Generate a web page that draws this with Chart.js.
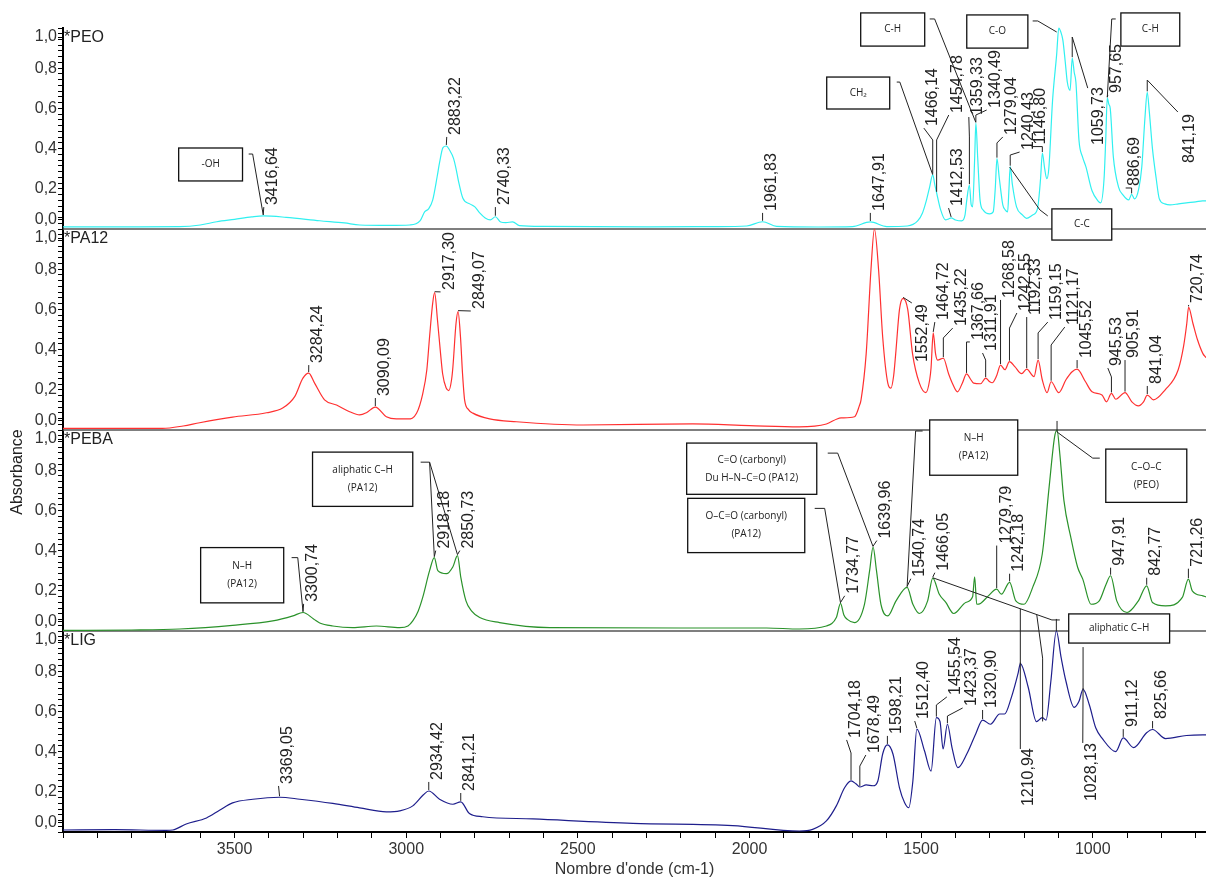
<!DOCTYPE html>
<html>
<head>
<meta charset="utf-8">
<script src="https://cdn.jsdelivr.net/npm/chart.js@4.4.1/dist/chart.umd.min.js"></script>
<style>
  html, body { margin: 0; padding: 0; background: #fff; }
  #wrap { width: 1206px; height: 879px; position: relative; }
</style>
</head>
<body>
<div id="wrap"><canvas id="ftirChart"></canvas></div>
<script>
// ---- spectra: wavenumber (cm-1) and absorbance ----
var peoWn = [4000, 3800, 3660, 3600, 3552, 3500, 3450, 3416.64, 3350, 3252, 3180, 3136, 3050, 2990, 2960, 2946, 2935, 2923, 2910, 2903, 2893, 2883.22, 2874, 2862, 2855, 2848, 2835, 2815, 2800, 2786, 2770, 2755, 2740.33, 2725, 2710, 2690, 2670, 2600, 2300, 2100, 2008, 1961.83, 1921, 1800, 1700, 1647.91, 1600, 1540, 1510, 1496, 1485, 1475, 1466.14, 1460, 1454.78, 1443, 1429, 1420, 1412.53, 1400, 1382, 1372, 1367, 1359.33, 1354, 1350, 1344, 1340.49, 1335, 1328, 1319, 1300, 1290, 1284, 1279.04, 1272, 1262, 1255, 1248, 1244, 1240.43, 1234, 1222, 1205, 1193, 1175, 1161, 1152, 1146.8, 1140, 1134, 1128, 1117, 1105, 1099, 1093, 1087, 1080, 1074, 1066, 1059.73, 1054, 1049, 1040, 1030, 1020, 1002, 985, 977, 967, 962, 957.65, 953, 949, 940, 925, 912, 895, 886.69, 878, 866, 857, 848, 841.19, 835, 826, 815, 806, 790, 775, 750, 727, 700, 680, 670];
var peoAbs = [0.011, 0.011, 0.012, 0.02, 0.036, 0.048, 0.06, 0.065, 0.058, 0.041, 0.03, 0.02, 0.018, 0.02, 0.04, 0.086, 0.1, 0.144, 0.26, 0.33, 0.405, 0.413, 0.393, 0.35, 0.3, 0.24, 0.153, 0.125, 0.11, 0.08, 0.055, 0.045, 0.061, 0.035, 0.032, 0.035, 0.017, 0.013, 0.011, 0.012, 0.015, 0.036, 0.013, 0.01, 0.012, 0.035, 0.012, 0.015, 0.04, 0.08, 0.14, 0.21, 0.27, 0.22, 0.18, 0.095, 0.045, 0.05, 0.055, 0.045, 0.04, 0.07, 0.144, 0.218, 0.12, 0.11, 0.35, 0.527, 0.35, 0.14, 0.094, 0.075, 0.085, 0.2, 0.35, 0.25, 0.12, 0.095, 0.085, 0.2, 0.31, 0.22, 0.11, 0.07, 0.053, 0.07, 0.1, 0.25, 0.378, 0.3, 0.25, 0.3, 0.64, 0.87, 1.0, 0.98, 0.94, 0.83, 0.73, 0.69, 0.85, 0.78, 0.73, 0.44, 0.36, 0.31, 0.19, 0.14, 0.13, 0.25, 0.45, 0.652, 0.62, 0.6, 0.36, 0.21, 0.17, 0.145, 0.172, 0.15, 0.2, 0.31, 0.55, 0.68, 0.58, 0.4, 0.25, 0.15, 0.125, 0.12, 0.125, 0.13, 0.135, 0.14, 0.14];

var pa12Wn = [4000, 3710, 3650, 3602, 3506, 3407, 3360, 3325, 3301, 3284.24, 3267, 3238, 3203, 3165, 3136, 3116, 3090.09, 3058, 3029, 2995, 2970, 2952, 2940, 2932, 2923, 2917.3, 2909, 2900, 2894, 2884, 2876, 2868, 2864, 2855, 2849.07, 2842, 2836, 2830, 2818, 2806, 2757, 2679, 2485, 2165, 2000, 1855, 1776, 1745, 1733, 1694, 1680, 1675, 1660, 1646, 1636, 1624, 1612, 1597, 1588, 1580, 1574, 1563, 1552.49, 1539, 1525, 1505, 1486, 1475, 1471, 1464.72, 1458, 1452, 1435.22, 1420, 1409, 1394, 1380, 1367.66, 1355, 1347, 1327, 1311.91, 1300, 1293, 1280, 1268.58, 1256, 1242.55, 1227, 1207, 1192.33, 1171, 1159.15, 1147, 1133, 1121.17, 1099, 1078, 1060, 1045.52, 1021, 1002, 973, 960, 945.53, 933, 905.91, 886, 867, 852, 841.04, 823, 789, 751, 735, 726, 720.74, 708, 695, 679, 670];
var pa12Abs = [0.008, 0.008, 0.02, 0.036, 0.064, 0.086, 0.109, 0.166, 0.258, 0.283, 0.233, 0.15, 0.124, 0.091, 0.075, 0.086, 0.114, 0.066, 0.055, 0.055, 0.083, 0.18, 0.3, 0.464, 0.63, 0.683, 0.547, 0.38, 0.28, 0.21, 0.196, 0.25, 0.315, 0.53, 0.589, 0.464, 0.28, 0.15, 0.1, 0.084, 0.055, 0.041, 0.025, 0.03, 0.022, 0.016, 0.03, 0.055, 0.06, 0.066, 0.12, 0.15, 0.38, 0.8, 1.0, 0.8, 0.464, 0.233, 0.208, 0.27, 0.38, 0.6, 0.655, 0.6, 0.38, 0.233, 0.186, 0.25, 0.31, 0.483, 0.38, 0.348, 0.357, 0.28, 0.233, 0.19, 0.233, 0.279, 0.25, 0.233, 0.23, 0.258, 0.24, 0.235, 0.27, 0.323, 0.3, 0.34, 0.315, 0.28, 0.303, 0.266, 0.348, 0.25, 0.186, 0.24, 0.186, 0.25, 0.29, 0.303, 0.24, 0.19, 0.174, 0.14, 0.182, 0.153, 0.186, 0.14, 0.12, 0.14, 0.174, 0.15, 0.2, 0.3, 0.42, 0.53, 0.61, 0.53, 0.45, 0.38, 0.36];

var pebaWn = [4000, 3800, 3660, 3506, 3389, 3330, 3300.74, 3270, 3252, 3214, 3156, 3087, 3019, 2995, 2981, 2965, 2952, 2932, 2918.18, 2908, 2883, 2864, 2850.73, 2841, 2826, 2810, 2786, 2728, 2582, 2200, 1950, 1855, 1776, 1747, 1734.77, 1725, 1715, 1694, 1665, 1650, 1639.96, 1630, 1617, 1597, 1573, 1540.74, 1524, 1505, 1481, 1466.05, 1447, 1428, 1405, 1370, 1350, 1344, 1338, 1327, 1304, 1279.79, 1266, 1242.18, 1224, 1200, 1175, 1147, 1127, 1111, 1104, 1096, 1084, 1064, 1044, 1029, 1005, 981, 961, 947.91, 930, 900, 867, 842.77, 826, 788, 739, 721.26, 710, 679, 670];
var pebaAbs = [0.003, 0.005, 0.01, 0.028, 0.05, 0.075, 0.092, 0.06, 0.04, 0.025, 0.017, 0.025, 0.017, 0.025, 0.05, 0.1, 0.167, 0.3, 0.365, 0.3, 0.285, 0.32, 0.375, 0.267, 0.15, 0.1, 0.067, 0.042, 0.017, 0.015, 0.015, 0.01, 0.025, 0.067, 0.137, 0.08, 0.058, 0.042, 0.133, 0.3, 0.417, 0.3, 0.133, 0.075, 0.15, 0.217, 0.133, 0.087, 0.15, 0.263, 0.183, 0.142, 0.087, 0.142, 0.17, 0.27, 0.133, 0.137, 0.175, 0.208, 0.183, 0.242, 0.15, 0.133, 0.217, 0.383, 0.717, 0.967, 1.0, 0.883, 0.65, 0.467, 0.317, 0.258, 0.133, 0.15, 0.233, 0.275, 0.15, 0.092, 0.15, 0.225, 0.142, 0.125, 0.167, 0.258, 0.2, 0.175, 0.17];

var ligWn = [4000, 3850, 3700, 3680, 3641, 3582, 3544, 3506, 3447, 3369.05, 3310, 3214, 3136, 3058, 3019, 2981, 2950, 2934.42, 2903, 2864, 2841.21, 2816, 2777, 2631, 2340, 2049, 1855, 1816, 1776, 1747, 1723, 1704.18, 1690, 1678.49, 1660, 1640, 1626, 1612, 1598.21, 1582, 1563, 1548, 1536, 1524, 1512.4, 1490, 1471, 1455.54, 1445, 1436, 1423.37, 1410, 1393, 1367, 1341, 1320.9, 1298, 1271, 1257, 1237, 1217, 1210.94, 1188, 1164, 1147, 1136, 1122, 1106, 1092, 1078, 1054, 1040, 1028.13, 1010, 991, 973, 933, 911.12, 881, 843, 825.66, 788, 727, 679, 670];
var ligAbs = [0.01, 0.012, 0.008, 0.01, 0.04, 0.07, 0.108, 0.145, 0.163, 0.173, 0.163, 0.142, 0.12, 0.1, 0.105, 0.13, 0.185, 0.204, 0.163, 0.138, 0.15, 0.092, 0.076, 0.065, 0.043, 0.032, 0.005, 0.013, 0.055, 0.13, 0.22, 0.254, 0.24, 0.224, 0.234, 0.23, 0.254, 0.388, 0.433, 0.388, 0.22, 0.146, 0.121, 0.254, 0.512, 0.403, 0.303, 0.569, 0.55, 0.413, 0.536, 0.42, 0.32, 0.388, 0.488, 0.557, 0.536, 0.587, 0.587, 0.67, 0.793, 0.838, 0.72, 0.549, 0.569, 0.557, 0.75, 1.0, 0.867, 0.75, 0.62, 0.65, 0.71, 0.633, 0.517, 0.467, 0.4, 0.468, 0.42, 0.494, 0.51, 0.465, 0.48, 0.483, 0.483];

var sampleNames = ['*PEO', '*PA12', '*PEBA', '*LIG'];
var lineColors = ['#30f0f0', '#ff3030', '#2a922a', '#1e1e8c'];
var panelIds = ['yPEO', 'yPA12', 'yPEBA', 'yLIG'];

// ---- tick labels ----
var xTickValues = [3500, 3000, 2500, 2000, 1500, 1000];
var xTickLabels = ['3500', '3000', '2500', '2000', '1500', '1000'];
var yTickValues = [0.2, 0.4, 0.6, 0.8];
var yTickLabels = ['0,2', '0,4', '0,6', '0,8'];
var yEndLabels = ['0,0', '1,0'];

// ---- annotations: panel, text, peak wavenumber, leader bends [wn, abs], text start [wn, abs] ----
var peakLabels = [
  [0, '3416,64', 3416.64, [], [3415, 0.109]],
  [0, '2883,22', 2883.22, [], [2882, 0.458]],
  [0, '2740,33', 2740.33, [], [2740.33, 0.109]],
  [0, '1961,83', 1961.83, [], [1961.83, 0.08]],
  [0, '1647,91', 1647.91, [], [1647.91, 0.08]],
  [0, '1466,14', 1466.14, [[1466.14, 0.443], [1492, 0.502]], [1492, 0.502]],
  [0, '1454,78', 1454.78, [[1454.78, 0.443], [1419.5, 0.567]], [1419.5, 0.567]],
  [0, '1412,53', 1412.53, [], [1420, 0.104]],
  [0, '1359,33', 1359.33, [[1359.33, 0.458], [1361, 0.557]], [1361, 0.557]],
  [0, '1340,49', 1340.49, [[1340.49, 0.567], [1309, 0.592]], [1309, 0.592]],
  [0, '1279,04', 1279.04, [[1279.04, 0.428], [1262, 0.458]], [1262, 0.458]],
  [0, '1240,43', 1240.43, [[1240.43, 0.368], [1213, 0.383]], [1213, 0.383]],
  [0, '1146,80', 1146.8, [[1146.8, 0.41], [1178, 0.41]], [1178, 0.41]],
  [0, '1059,73', 1059.73, [[1059.73, 0.955], [1014.5, 0.701]], [1008.7, 0.408]],
  [0, '957,65', 957.65, [], [956, 0.667]],
  [0, '886,69', 886.69, [[886.69, 0.204], [904, 0.204]], [904, 0.204]],
  [0, '841,19', 841.19, [[841.19, 0.741], [752, 0.582]], [744, 0.318]],
  [1, '3284,24', 3284.24, [], [3284, 0.323]],
  [1, '3090,09', 3090.09, [], [3090, 0.159]],
  [1, '2917,30', 2917.3, [[2900, 0.687]], [2900, 0.687]],
  [1, '2849,07', 2849.07, [[2812, 0.592]], [2812, 0.592]],
  [1, '1552,49', 1552.49, [[1527, 0.632]], [1521.5, 0.328]],
  [1, '1464,72', 1464.72, [], [1460, 0.537]],
  [1, '1435,22', 1435.22, [[1435.22, 0.458], [1408, 0.507]], [1408, 0.507]],
  [1, '1367,66', 1367.66, [[1367.66, 0.438], [1358, 0.438]], [1358, 0.438]],
  [1, '1311,91', 1311.91, [[1311.91, 0.348], [1321, 0.383]], [1321, 0.383]],
  [1, '1268,58', 1268.58, [], [1268.58, 0.647]],
  [1, '1242,55', 1242.55, [[1242.55, 0.507], [1221, 0.582]], [1221, 0.582]],
  [1, '1192,33', 1192.33, [], [1192.33, 0.562]],
  [1, '1159,15', 1159.15, [[1159.15, 0.483], [1131, 0.537]], [1131, 0.537]],
  [1, '1121,17', 1121.17, [[1121.17, 0.423], [1081.5, 0.512]], [1081.5, 0.512]],
  [1, '1045,52', 1045.52, [], [1045.52, 0.348]],
  [1, '945,53', 945.53, [[945.53, 0.264], [956, 0.308]], [956, 0.308]],
  [1, '905,91', 905.91, [], [905.91, 0.348]],
  [1, '841,04', 841.04, [], [841.04, 0.219]],
  [1, '720,74', 720.74, [], [720.74, 0.622]],
  [2, '3300,74', 3300.74, [], [3299, 0.135]],
  [2, '2918,18', 2918.18, [], [2914, 0.4]],
  [2, '2850,73', 2850.73, [], [2844, 0.4]],
  [2, '1734,77', 1734.77, [], [1722.6, 0.175]],
  [2, '1639,96', 1639.96, [], [1629, 0.45]],
  [2, '1540,74', 1540.74, [], [1530, 0.26]],
  [2, '1466,05', 1466.05, [], [1460, 0.29]],
  [2, '1279,79', 1279.79, [[1279.79, 0.425]], [1277, 0.425]],
  [2, '1242,18', 1242.18, [], [1242.18, 0.285]],
  [2, '947,91', 947.91, [], [947.91, 0.315]],
  [2, '842,77', 842.77, [], [842.77, 0.265]],
  [2, '721,26', 721.26, [], [721.26, 0.31]],
  [3, '3369,05', 3369.05, [], [3372, 0.229]],
  [3, '2934,42', 2934.42, [], [2934.42, 0.249]],
  [3, '2841,21', 2841.21, [], [2841.21, 0.194]],
  [3, '1704,18', 1704.18, [[1704.18, 0.393], [1717, 0.458]], [1717, 0.458]],
  [3, '1678,49', 1678.49, [[1678.49, 0.328], [1661, 0.383]], [1661, 0.383]],
  [3, '1598,21', 1598.21, [], [1598.21, 0.478]],
  [3, '1512,40', 1512.4, [], [1518.6, 0.552]],
  [3, '1455,54', 1455.54, [[1455.54, 0.632], [1425, 0.672]], [1425, 0.672]],
  [3, '1423,37', 1423.37, [[1423.37, 0.577], [1379, 0.617]], [1379, 0.617]],
  [3, '1320,90', 1320.9, [], [1320.9, 0.607]],
  [3, '1210,94', 1210.94, [[1210.94, 0.413]], [1213, 0.119]],
  [3, '1028,13', 1028.13, [[1029, 0.443]], [1029, 0.144]],
  [3, '911,12', 911.12, [], [911.12, 0.512]],
  [3, '825,66', 825.66, [], [825.66, 0.552]]
];

// boxes: panel, lines, left wn, right wn, top abs, bottom abs
var noteBoxes = [
  [0, ['-OH'], 3663, 3477, 0.403, 0.239],
  [0, ['CH\u2082'], 1775, 1591.5, 0.756, 0.597],
  [0, ['C-H'], 1676, 1489.5, 1.075, 0.91],
  [0, ['C-O'], 1367, 1189, 1.065, 0.9],
  [0, ['C-H'], 918, 746.5, 1.075, 0.91],
  [0, ['C-C'], 1119, 944.6, 0.1, -0.055],
  [2, ['N\u2013H', '(PA12)'], 3599, 3357, 0.415, 0.14],
  [2, ['aliphatic C\u2013H', '(PA12)'], 3273, 2981, 0.89, 0.62],
  [2, ['C=O (carbonyl)', 'Du H\u2013N\u2013C=O (PA12)'], 2183, 1804, 0.935, 0.68],
  [2, ['O\u2013C=O (carbonyl)', '(PA12)'], 2180, 1839, 0.66, 0.39],
  [2, ['N\u2013H', '(PA12)'], 1475, 1218.5, 1.05, 0.775],
  [2, ['C\u2013O\u2013C', '(PEO)'], 962, 726, 0.905, 0.64],
  [2, ['aliphatic C\u2013H'], 1070, 776, 0.085, -0.06]
];

// box leader lines: panel, points [wn, abs]
var boxLeaders = [
  [0, [[3416.64, 0.07], [3447.5, 0.373], [3459, 0.373]]],
  [0, [[1571, 0.731], [1562, 0.731], [1466.14, 0.27]]],
  [0, [[1475, 1.045], [1460.6, 1.045], [1340.49, 0.53]]],
  [0, [[1175, 1.035], [1160, 1.035], [1105, 0.98]]],
  [0, [[957.65, 0.655], [944.6, 1.045], [933, 1.045]]],
  [0, [[1242, 0.308], [1154, 0.095], [1131, 0.065]]],
  [2, [[3300.74, 0.095], [3316, 0.365], [3334, 0.365]]],
  [2, [[2958, 0.84], [2932, 0.84], [2918.18, 0.37]]],
  [2, [[2932, 0.84], [2850.73, 0.38]]],
  [2, [[1772, 0.885], [1743, 0.885], [1639.96, 0.42]]],
  [2, [[1810, 0.61], [1781, 0.61], [1734.77, 0.14]]],
  [2, [[1540.74, 0.22], [1516, 0.995], [1495.6, 0.995]]],
  [2, [[1104, 1.045], [1104, 0.99], [1000, 0.86], [979.5, 0.86]]],
  [2, [[1466.05, 0.265], [1119, 0.055], [1096, 0.055]]],
  [2, [[1210.94, 0.11], [1210.94, -0.163]]],
  [2, [[1106, 0.06], [1106, 0.0]]],
  [2, [[1163, 0.08], [1146, -0.135], [1146, -0.45]]],
  [2, [[1028.13, -0.08], [1028.13, -0.29]]]
];

var wnSets = [peoWn, pa12Wn, pebaWn, ligWn];
var absSets = [peoAbs, pa12Abs, pebaAbs, ligAbs];
var FONT = '"Liberation Sans", Arial, sans-serif';

function absAt(p, wn) {
  var w = wnSets[p], a = absSets[p];
  for (var i = 0; i < w.length - 1; i++) {
    if (wn <= w[i] && wn >= w[i + 1]) {
      var t = (w[i] - wn) / (w[i] - w[i + 1]);
      return a[i] + t * (a[i + 1] - a[i]);
    }
  }
  return a[a.length - 1];
}

function yTicks() {
  var list = [];
  for (var k = 0; k <= 35; k++) list.push({ value: k * 0.2 / 7, text: '' });
  yTickValues.forEach(function (v, i) { list.push({ value: v, text: yTickLabels[i] }); });
  list.push({ value: 0.045, text: yEndLabels[0] });
  list.push({ value: 0.955, text: yEndLabels[1] });
  list.sort(function (a, b) { return a.value - b.value; });
  return list;
}

function panelScale(weight) {
  return {
    type: 'linear', position: 'left', stack: 'spectra', stackWeight: 1, weight: weight,
    min: 0, max: 1,
    afterBuildTicks: function (s) { s.ticks = yTicks(); },
    afterFit: function (s) { s.width = 63; },
    ticks: {
      autoSkip: false, padding: 1, color: '#333',
      font: { family: FONT, size: 16 },
      callback: function (v, i, t) { return t[i].text; }
    },
    grid: { drawOnChartArea: false, drawTicks: true, tickLength: 5, color: '#000' },
    border: { display: true, color: '#000', width: 2 }
  };
}

var datasets = sampleNames.map(function (name, p) {
  return {
    label: name,
    data: wnSets[p].map(function (w, i) { return { x: w, y: absSets[p][i] }; }),
    yAxisID: panelIds[p],
    borderColor: lineColors[p],
    borderWidth: 1.2,
    pointRadius: 0,
    cubicInterpolationMode: 'monotone',
    clip: 4
  };
});

var ftirAnnotations = {
  id: 'ftirAnnotations',
  beforeDatasetsDraw: function (chart) {
    var ctx = chart.ctx, area = chart.chartArea;
    ctx.save();
    ctx.strokeStyle = '#555';
    ctx.lineWidth = 1.5;
    for (var p = 0; p < 3; p++) {
      var yb = chart.scales[panelIds[p]].bottom;
      ctx.beginPath();
      ctx.moveTo(area.left, yb);
      ctx.lineTo(area.right, yb);
      ctx.stroke();
    }
    ctx.restore();
  },
  afterDatasetsDraw: function (chart) {
    var ctx = chart.ctx, xs = chart.scales.x;
    function X(wn) { return xs.getPixelForValue(wn); }
    function Y(p, v) { return chart.scales[panelIds[p]].getPixelForValue(v); }
    ctx.save();
    ctx.strokeStyle = '#222';
    ctx.fillStyle = '#222';
    ctx.lineWidth = 1;

    // panel names
    ctx.font = '16px ' + FONT;
    ctx.textAlign = 'left';
    ctx.textBaseline = 'middle';
    sampleNames.forEach(function (n, p) {
      ctx.fillText(n, chart.chartArea.left + 1, chart.scales[panelIds[p]].top + 10);
    });

    // box leaders
    boxLeaders.forEach(function (b) {
      ctx.beginPath();
      b[1].forEach(function (pt, i) {
        var x = X(pt[0]), y = Y(b[0], pt[1]);
        if (i === 0) ctx.moveTo(x, y); else ctx.lineTo(x, y);
      });
      ctx.stroke();
    });

    // peak labels with leaders
    peakLabels.forEach(function (l) {
      var p = l[0];
      var pts = [[X(l[2]), Y(p, absAt(p, l[2])) - 1]];
      var path = l[3].length ? l[3] : [l[4]];
      path.forEach(function (pt) { pts.push([X(pt[0]), Y(p, pt[1])]); });
      ctx.beginPath();
      pts.forEach(function (pt, i) { if (i === 0) ctx.moveTo(pt[0], pt[1]); else ctx.lineTo(pt[0], pt[1]); });
      ctx.stroke();
      ctx.save();
      ctx.translate(X(l[4][0]), Y(p, l[4][1]));
      ctx.rotate(-Math.PI / 2);
      ctx.font = '16px ' + FONT;
      ctx.textAlign = 'left';
      ctx.textBaseline = 'top';
      ctx.fillText(l[1], 2, 1);
      ctx.restore();
    });

    // boxes
    noteBoxes.forEach(function (b) {
      var p = b[0];
      var x1 = X(b[2]), x2 = X(b[3]), y1 = Y(p, b[4]), y2 = Y(p, b[5]);
      ctx.fillStyle = '#fff';
      ctx.fillRect(x1, y1, x2 - x1, y2 - y1);
      ctx.lineWidth = 1.3;
      ctx.strokeStyle = '#111';
      ctx.strokeRect(x1, y1, x2 - x1, y2 - y1);
      ctx.fillStyle = '#222';
      ctx.font = '10px "Open Sans", ' + FONT;
      ctx.textAlign = 'center';
      ctx.textBaseline = 'middle';
      var cy = (y1 + y2) / 2, n = b[1].length;
      b[1].forEach(function (t, i) {
        ctx.fillText(t, (x1 + x2) / 2, cy + (i - (n - 1) / 2) * 18);
      });
      ctx.lineWidth = 1;
      ctx.strokeStyle = '#222';
    });

    // y axis title
    ctx.fillStyle = '#222';
    ctx.font = '16px ' + FONT;
    ctx.translate(18, 472);
    ctx.rotate(-Math.PI / 2);
    ctx.textAlign = 'center';
    ctx.textBaseline = 'middle';
    ctx.fillText('Absorbance', 0, 0);
    ctx.restore();
  }
};

var scales = {
  x: {
    type: 'linear', reverse: true, min: 670, max: 4000, position: 'bottom',
    afterBuildTicks: function (s) {
      var t = [];
      for (var v = 700; v <= 4000; v += 100) t.push({ value: v });
      s.ticks = t;
    },
    afterFit: function (s) { s.height = 47; },
    ticks: {
      autoSkip: false, maxRotation: 0, padding: 2, color: '#333',
      font: { family: FONT, size: 16 },
      callback: function (v) {
        var i = xTickValues.indexOf(v);
        return i >= 0 ? xTickLabels[i] : '';
      }
    },
    grid: { drawOnChartArea: false, tickLength: 6, color: '#000' },
    border: { color: '#000', width: 2 },
    title: {
      display: true, text: "Nombre d'onde (cm-1)", color: '#333',
      font: { family: FONT, size: 16 }, padding: { top: 0, bottom: 0 }
    }
  }
};
panelIds.forEach(function (id, p) { scales[id] = panelScale(4 - p); });

new Chart(document.getElementById('ftirChart').getContext('2d'), {
  type: 'line',
  data: { datasets: datasets },
  options: {
    responsive: true,
    maintainAspectRatio: false,
    devicePixelRatio: 1,
    animation: false,
    events: [],
    layout: { padding: { top: 28, left: 0, right: 0, bottom: 0 } },
    plugins: { legend: { display: false }, tooltip: { enabled: false } },
    scales: scales
  },
  plugins: [ftirAnnotations]
});
</script>
</body>
</html>
